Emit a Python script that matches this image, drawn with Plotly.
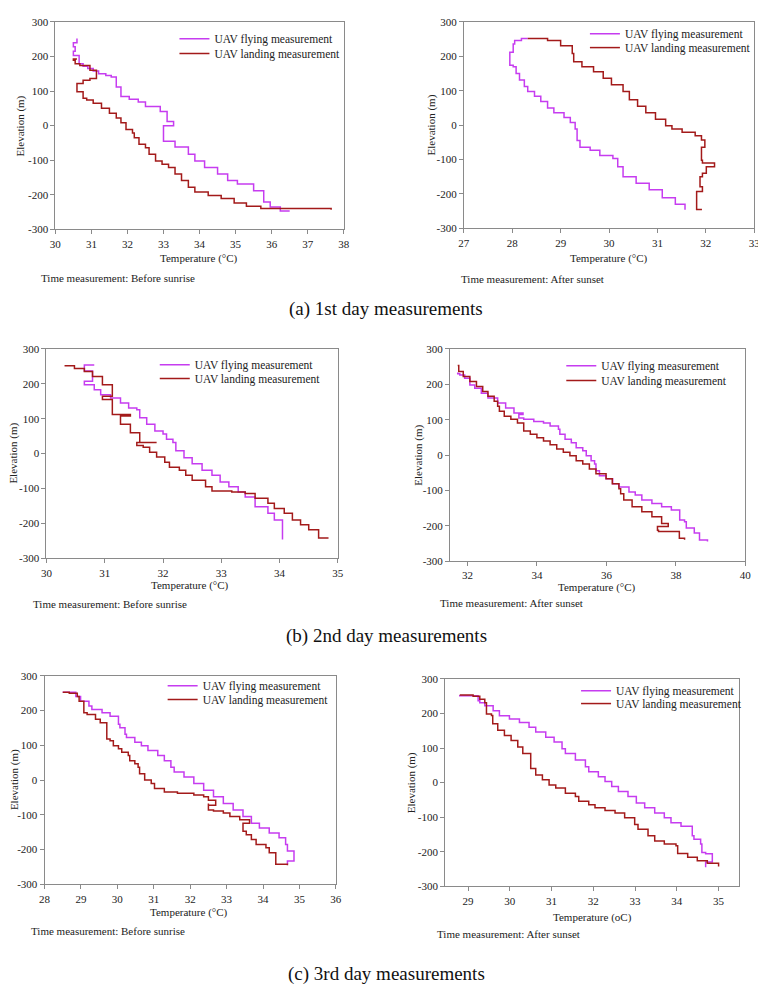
import plotly.graph_objects as go

W, H = 766, 991
OFF = 8  # browser body margin compensation

# ---------------- DATA ----------------
# (a) 1st day, before sunrise
a1_fly_T = [30.6, 30.5, 30.55, 30.5, 30.66, 30.77, 30.9, 31.05, 31.2, 31.4, 31.55, 31.69, 31.82, 32.05, 32.3, 32.5,
            32.91, 33.1, 33.28, 33.0, 33.0, 33.32, 33.69, 33.87, 34.14, 34.5, 34.78, 35.05, 35.5, 35.78, 35.96,
            36.24, 36.5]
a1_fly_E = [252, 240, 228, 215, 203, 179, 172, 165, 158, 150, 145, 141, 112, 84, 76, 68,
            55, 41, 12, 0, -26, -45, -62, -83, -102, -121, -140, -159, -169, -188, -221,
            -235, -247]
a1_land_T = [37.65, 35.7, 35.3, 34.96, 34.6, 34.24, 33.87, 33.69, 33.5, 33.32, 33.14, 32.96, 32.78, 32.6, 32.5, 32.32,
             32.19, 32.14, 31.96, 31.82, 31.69, 31.5, 31.28, 31.05, 30.87, 30.77, 30.6, 30.6, 30.77, 30.96, 31.14,
             31.14, 30.96, 30.68, 30.55, 30.5, 30.6]
a1_land_E = [-243, -240, -233, -224, -211, -202, -192, -178, -159, -140, -121, -112, -102, -83, -64, -54,
             -35, -21, -11, 8, 22, 36, 50, 65, 74, 79, 98, 112, 122, 131, 136,
             150, 160, 174, 179, 189, 193]

# (a) 1st day, after sunset
a2_fly_T = [31.57, 31.37, 31.1, 30.83, 30.56, 30.29, 30.18, 30.08, 29.81, 29.61, 29.4, 29.34, 29.3, 29.2, 29.07,
            28.86, 28.73, 28.59, 28.46, 28.32, 28.25, 28.15, 28.08, 28.02, 27.95, 27.95, 28.02, 28.05, 28.19, 28.32]
a2_fly_E = [-246, -230, -211, -188, -169, -150, -121, -97, -88, -73, -64, -45, -11, 8, 22,
            36, 50, 69, 84, 98, 112, 131, 150, 170, 174, 212, 212, 236, 246, 252]
a2_land_T = [28.32, 28.73, 29.0, 29.24, 29.27, 29.44, 29.68, 29.88, 30.05, 30.29, 30.42, 30.59, 30.76, 30.96, 31.17,
             31.3, 31.51, 31.78, 31.91, 31.98, 31.98, 31.91, 31.91, 31.93, 32.18, 32.01, 31.93, 31.88, 31.88, 31.93,
             31.93, 31.81, 31.81, 31.92]
a2_land_E = [252, 252, 246, 231, 208, 184, 170, 155, 136, 117, 98, 74, 55, 36, 17,
             -2, -11, -21, -31, -43, -55, -64, -83, -102, -110, -121, -140, -150, -174, -179,
             -188, -193, -243, -245]

# (b) 2nd day, before sunrise
b1_fly_T = [34.05, 34.05, 33.91, 33.8, 33.8, 33.58, 33.58, 33.41, 33.29, 33.13, 32.98, 32.84, 32.67, 32.5, 32.36,
            32.22, 32.17, 32.06, 32.0, 31.86, 31.72, 31.6, 31.55, 31.41, 31.27, 31.1, 30.93, 30.82, 30.65, 30.65,
            30.79, 30.79, 30.65, 30.65, 30.82]
b1_fly_E = [-246, -190, -190, -171, -157, -152, -133, -124, -110, -95, -81, -62, -48, -29, -12,
            8, 32, 41, 56, 65, 84, 103, 126, 131, 145, 159, 169, 183, 197, 202,
            207, 235, 237, 254, 254]
b1_land_T = [34.84, 34.67, 34.67, 34.5, 34.36, 34.22, 34.08, 33.91, 33.8, 33.58, 33.41, 33.18, 32.84, 32.73, 32.5,
             32.39, 32.28, 32.11, 32.03, 31.89, 31.77, 31.66, 31.55, 31.55, 31.89, 31.6, 31.6, 31.44, 31.44, 31.27,
             31.27, 31.44, 31.13, 31.13, 30.96, 31.13, 31.13, 30.96, 30.96, 30.79, 30.65, 30.48, 30.31]
b1_land_E = [-242, -242, -227, -218, -204, -190, -171, -157, -142, -128, -114, -110, -107, -95, -76,
             -62, -48, -39, -25, -10, 4, 18, 23, 32, 32, 32, 45, 60, 79, 84,
             103, 108, 112, 145, 155, 164, 188, 197, 211, 221, 235, 244, 252]

# (b) 2nd day, after sunset
b2_fly_T = [38.91, 38.68, 38.53, 38.3, 38.25, 38.11, 38.11, 37.87, 37.59, 37.31, 37.02, 36.83, 36.65, 36.36, 36.18,
            35.99, 35.8, 35.7, 35.66, 35.56, 35.42, 35.32, 35.13, 34.99, 34.81, 34.66, 34.62, 34.38, 34.19, 33.91,
            33.62, 33.48, 33.6, 33.34, 33.1, 32.87, 32.59, 32.4, 32.21, 32.07, 31.92, 31.78, 31.72, 31.72]
b2_fly_E = [-244, -240, -220, -206, -188, -183, -160, -155, -146, -137, -127, -113, -104, -90, -81,
            -67, -58, -44, -25, -16, -2, 12, 21, 35, 45, 59, 73, 82, 91, 95,
            101, 105, 115, 119, 133, 147, 161, 175, 189, 198, 217, 226, 230, 233]
b2_land_T = [38.25, 38.1, 37.5, 37.47, 37.78, 37.59, 37.59, 37.31, 37.02, 36.74, 36.5, 36.41, 36.36, 36.17, 35.99,
             35.7, 35.51, 35.32, 35.13, 34.95, 34.76, 34.57, 34.38, 34.19, 34.0, 33.81, 33.62, 33.62, 33.44, 33.25,
             33.06, 32.92, 32.87, 32.77, 32.59, 32.44, 32.26, 32.07, 31.88, 31.75, 31.72]
b2_land_E = [-239, -235, -216, -212, -202, -193, -183, -174, -160, -146, -127, -109, -95, -81, -67,
             -53, -39, -25, -16, -2, 8, 17, 29, 40, 49, 59, 68, 82, 91, 101,
             110, 124, 138, 152, 166, 180, 194, 208, 222, 236, 253]

# (c) 3rd day, before sunrise
c1_fly_T = [28.5, 28.86, 28.99, 29.22, 29.3, 29.58, 29.8, 30.03, 30.07, 30.21, 30.25, 30.48, 30.66, 30.84, 31.11,
            31.29, 31.47, 31.56, 31.83, 32.1, 32.37, 32.64, 32.91, 33.18, 33.45, 33.68, 33.9, 34.17, 34.44, 34.62,
            34.67, 34.85, 34.85, 34.67, 34.67]
c1_fly_E = [253, 253, 241, 227, 213, 203, 194, 184, 161, 151, 132, 123, 109, 99, 85,
            71, 56, 37, 23, 9, -10, -29, -48, -67, -86, -105, -124, -138, -152, -166,
            -185, -204, -228, -233, -242]
c1_land_T = [34.67, 34.35, 34.35, 34.17, 34.08, 33.81, 33.68, 33.54, 33.45, 33.45, 33.63, 33.36, 33.09, 32.91, 32.64,
             32.5, 32.5, 32.7, 32.5, 32.37, 32.1, 31.65, 31.29, 31.02, 30.93, 30.75, 30.61, 30.57, 30.48, 30.34,
             30.3, 30.12, 30.03, 29.89, 29.8, 29.71, 29.71, 29.53, 29.4, 29.17, 29.08, 29.08, 28.95, 28.9, 28.68, 28.5]
c1_land_E = [-245, -242, -214, -209, -195, -185, -171, -157, -147, -124, -124, -114, -105, -95, -89,
             -86, -67, -72, -58, -48, -43, -38, -34, -24, -10, 0, 18, 37, 47, 56,
             71, 80, 90, 99, 113, 118, 161, 165, 175, 189, 194, 222, 227, 241, 250, 253]

# (c) 3rd day, after sunset
c2_fly_T = [28.8, 29.24, 29.28, 29.4, 29.6, 29.75, 29.99, 30.23, 30.46, 30.62, 30.86, 31.06, 31.25, 31.33, 31.57,
            31.81, 31.89, 32.12, 32.28, 32.44, 32.6, 32.83, 33.03, 33.23, 33.47, 33.7, 33.86, 34.1, 34.37, 34.41,
            34.57, 34.6, 34.69, 34.85, 34.85, 34.69, 34.69]
c2_fly_E = [253, 251, 237, 231, 222, 208, 193, 184, 174, 160, 146, 131, 117, 98, 84,
            65, 46, 31, 17, 3, -11, -26, -40, -59, -73, -88, -102, -116, -126, -154,
            -164, -178, -202, -206, -226, -230, -245]
c2_land_T = [35.0, 34.73, 34.49, 34.26, 34.02, 33.98, 33.7, 33.47, 33.31, 33.07, 32.99, 32.75, 32.52, 32.28, 32.04,
             31.89, 31.65, 31.57, 31.33, 31.1, 30.94, 30.78, 30.62, 30.5, 30.5, 30.31, 30.19, 30.03, 29.87, 29.71,
             29.59, 29.56, 29.44, 29.4, 29.28, 29.12, 28.8]
c2_land_E = [-243, -233, -226, -216, -205, -183, -178, -169, -154, -135, -121, -102, -88, -81, -73,
             -64, -54, -40, -31, -16, -7, 8, 22, 41, 79, 84, 103, 122, 136, 151,
             170, 194, 198, 231, 241, 250, 253]

# tick values / labels
elev_ticks = [-300, -200, -100, 0, 100, 200, 300]
elev_labels = ["-300", "-200", "-100", "0", "100", "200", "300"]
a1_xticks = [30, 31, 32, 33, 34, 35, 36, 37, 38]
a2_xticks = [27, 28, 29, 30, 31, 32, 33]
b1_xticks = [30, 31, 32, 33, 34, 35]
b2_xticks = [32, 34, 36, 38, 40]
c1_xticks = [28, 29, 30, 31, 32, 33, 34, 35, 36]
c2_xticks = [29, 30, 31, 32, 33, 34, 35]

series_names = ["UAV flying measurement", "UAV landing measurement"]
captions = ["(a) 1st day measurements", "(b) 2nd day measurements", "(c) 3rd day measurements"]
time_notes = ["Time measurement: Before sunrise", "Time measurement: After sunset"]

# ---------------- LAYOUT ----------------
FONT = "Liberation Serif, Times New Roman, serif"
FLY = "#c63cf0"
LAND = "#a31a1a"
AX = "#8a8a8a"


def fx(px):
    return (px - OFF) / W


def fy(py):
    return 1 - (py - OFF) / H


panels = [
    dict(fly=(a1_fly_T, a1_fly_E), land=(a1_land_T, a1_land_E), xt=a1_xticks, xr=[30, 38],
         box=(50, 343, 16, 226), xtitle="Temperature (°C)", xtpos=(196, 255), ytx=15,
         note=time_notes[0], npos=(33, 275), leg=(213, 33, 48)),
    dict(fly=(a2_fly_T, a2_fly_E), land=(a2_land_T, a2_land_E), xt=a2_xticks, xr=[27, 33],
         box=(465, 760, 16, 225), xtitle="Temperature (°C)", xtpos=(612, 256), ytx=432,
         note=time_notes[1], npos=(460, 276), leg=(630, 28, 42)),
    dict(fly=(b1_fly_T, b1_fly_E), land=(b1_land_T, b1_land_E), xt=b1_xticks, xr=[30, 35],
         box=(41, 337, 347, 559), xtitle="Temperature (°C)", xtpos=(187, 587), ytx=8,
         note=time_notes[0], npos=(25, 605), leg=(193, 363, 377)),
    dict(fly=(b2_fly_T, b2_fly_E), land=(b2_land_T, b2_land_E), xt=b2_xticks, xr=[31.5, 40],
         box=(451, 751, 347, 562), xtitle="Temperature (°C)", xtpos=(600, 589), ytx=419,
         note=time_notes[1], npos=(439, 604), leg=(606, 364, 379)),
    dict(fly=(c1_fly_T, c1_fly_E), land=(c1_land_T, c1_land_E), xt=c1_xticks, xr=[28, 36],
         box=(39, 335, 678, 889), xtitle="Temperature (°C)", xtpos=(186, 918), ytx=8,
         note=time_notes[0], npos=(23, 936), leg=(201, 688, 702)),
    dict(fly=(c2_fly_T, c2_fly_E), land=(c2_land_T, c2_land_E), xt=c2_xticks, xr=[28.45, 35.5],
         box=(446, 745, 681, 891), xtitle="Temperature (oC)", xtpos=(596, 923), ytx=412,
         note=time_notes[1], npos=(436, 939), leg=(621, 693, 706)),
]

fig = go.Figure()
annotations = []
layout = {}

for i, p in enumerate(panels):
    k = "" if i == 0 else str(i + 1)
    l, r, t, b = p["box"]
    tx, ry1, ry2 = p["leg"]
    items = [(p["fly"], series_names[0], FLY, ry1), (p["land"], series_names[1], LAND, ry2)]
    for j, ((T, E), name, col, ry) in enumerate(items):
        n = 2 * i + j + 1
        leg = "legend" if n == 1 else f"legend{n}"
        fig.add_trace(go.Scatter(
            x=T, y=E, mode="lines", name=name, line=dict(color=col, width=1.5, shape="vh"),
            xaxis="x" + k, yaxis="y" + k, legend=leg, showlegend=True,
        ))
        layout[leg] = dict(
            x=fx(tx - 42), y=fy(ry), xanchor="left", yanchor="middle",
            bgcolor="rgba(0,0,0,0)", borderwidth=0, font=dict(family=FONT, size=11.5, color="#222"),
            itemwidth=30,
        )
    layout["xaxis" + k] = dict(
        domain=[fx(l), fx(r)], anchor="y" + k, range=p["xr"], tickvals=p["xt"],
        ticktext=[str(v) for v in p["xt"]], showgrid=False, zeroline=False,
        showline=True, mirror=True, linecolor=AX, linewidth=1, ticks="outside", ticklen=4,
        tickcolor=AX, tickfont=dict(family=FONT, size=11, color="#222"),
    )
    layout["yaxis" + k] = dict(
        domain=[fy(b), fy(t)], anchor="x" + k, range=[-300, 300], tickvals=elev_ticks,
        ticktext=elev_labels, showgrid=False, zeroline=False,
        showline=True, mirror=True, linecolor=AX, linewidth=1, ticks="outside", ticklen=4,
        tickcolor=AX, tickfont=dict(family=FONT, size=11, color="#222"),
    )
    annotations.append(dict(text=p["xtitle"], x=fx(p["xtpos"][0]), y=fy(p["xtpos"][1]),
                            xref="paper", yref="paper", showarrow=False, xanchor="center", yanchor="middle",
                            font=dict(family=FONT, size=11, color="#222")))
    annotations.append(dict(text="Elevation (m)", x=fx(p["ytx"]), y=fy((t + b) / 2),
                            xref="paper", yref="paper", showarrow=False, textangle=-90,
                            xanchor="center", yanchor="middle",
                            font=dict(family=FONT, size=11, color="#222")))
    annotations.append(dict(text=p["note"], x=fx(p["npos"][0]), y=fy(p["npos"][1]),
                            xref="paper", yref="paper", showarrow=False, xanchor="left", yanchor="middle",
                            font=dict(family=FONT, size=11, color="#222")))

for cap, py in zip(captions, [307, 638, 980]):
    annotations.append(dict(text=cap, x=fx(386), y=fy(py), xref="paper", yref="paper", showarrow=False,
                            xanchor="center", yanchor="middle", font=dict(family=FONT, size=19, color="#111")))

fig.update_layout(
    width=W, height=H, margin=dict(l=0, r=0, t=0, b=0),
    paper_bgcolor="white", plot_bgcolor="white",
    annotations=annotations, **layout,
)

fig.write_html("out.html")
